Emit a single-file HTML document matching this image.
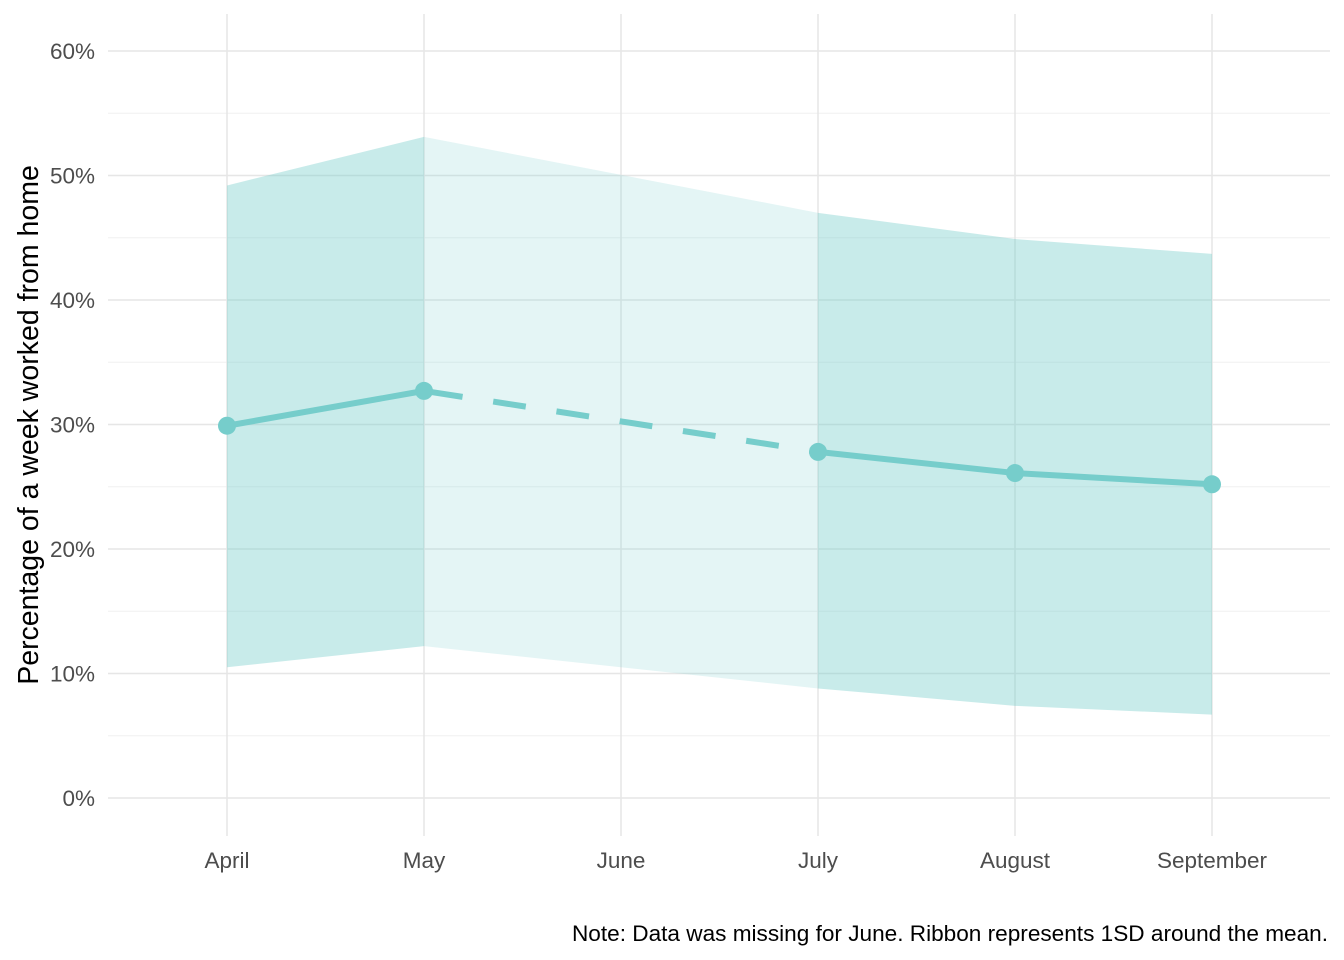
<!DOCTYPE html>
<html><head><meta charset="utf-8"><style>
html,body{margin:0;padding:0;background:#fff;}
svg{display:block;font-family:"Liberation Sans",Arial,sans-serif;}
</style></head><body>
<svg id="chart" width="1344" height="960">
<g id="grid"></g>
<g id="ribbon"></g>
<g id="lines"></g>
<g id="points"></g>
<g id="axes"></g>
<text x="0" y="0" transform="translate(38,425) rotate(-90)" text-anchor="middle" font-size="28.5" fill="#000">Percentage of a week worked from home</text>
<text x="1328" y="941" text-anchor="end" font-size="22.6" fill="#000">Note: Data was missing for June. Ribbon represents 1SD around the mean.</text>
</svg>
<script>
const months = ["April","May","June","July","August","September"];
const meanVals = [29.9, 32.7, null, 27.8, 26.1, 25.2];
const upperVals = [49.2, 53.1, null, 47.0, 44.9, 43.7];
const lowerVals = [10.5, 12.2, null, 8.8, 7.4, 6.7];
const yTicks = [0,10,20,30,40,50,60];
const yTickLabels = ["0%","10%","20%","30%","40%","50%","60%"];

const NS="http://www.w3.org/2000/svg";
const X0=227, DX=197, Y0=798, DY=12.45;
const x=i=>X0+i*DX;
const y=v=>Y0-v*DY;
function mk(tag,attrs,parent){const e=document.createElementNS(NS,tag);for(const k in attrs)e.setAttribute(k,attrs[k]);document.getElementById(parent).appendChild(e);return e;}

for(let v=5; v<=65; v+=10){
  const l=mk("line",{x1:108,x2:1330,y1:y(v),y2:y(v),stroke:"#f0f0f0","stroke-width":1},"grid");
  
  
}
yTicks.forEach((v,i)=>{
  const l=mk("line",{x1:108,x2:1330,y1:y(v),y2:y(v),stroke:"#e6e6e6","stroke-width":1.5},"grid");
  
  
  const t=mk("text",{x:95,y:y(v)+8,"text-anchor":"end","font-size":22.5,fill:"#4d4d4d"},"axes");
  t.textContent=yTickLabels[i];
  
  
});
months.forEach((m,i)=>{
  const l=mk("line",{x1:x(i),x2:x(i),y1:14,y2:836,stroke:"#e6e6e6","stroke-width":1.5},"grid");
  
  
  const t=mk("text",{x:x(i),y:868,"text-anchor":"middle","font-size":22.5,fill:"#4d4d4d"},"axes");
  t.textContent=m;
  
  
});

const known=[];meanVals.forEach((v,i)=>{if(v!==null)known.push(i);});
for(let k=0;k<known.length-1;k++){
  const a=known[k],b=known[k+1];
  const gap=b-a>1;
  const p=mk("polygon",{points:`${x(a)},${y(upperVals[a])} ${x(b)},${y(upperVals[b])} ${x(b)},${y(lowerVals[b])} ${x(a)},${y(lowerVals[a])}`,fill:"#76cdcb","fill-opacity":gap?0.2:0.4},"ribbon");
  
  
  const l=mk("line",{x1:x(a),y1:y(meanVals[a]),x2:x(b),y2:y(meanVals[b]),stroke:"#76cdcb","stroke-width":6},"lines");
  if(gap){l.setAttribute("stroke-dasharray","33,31");l.setAttribute("stroke-dashoffset","-6");}
  
  
}
known.forEach(i=>{
  const c=mk("circle",{cx:x(i),cy:y(meanVals[i]),r:9,fill:"#76cdcb"},"points");
  
  
});
</script>
</body></html>
